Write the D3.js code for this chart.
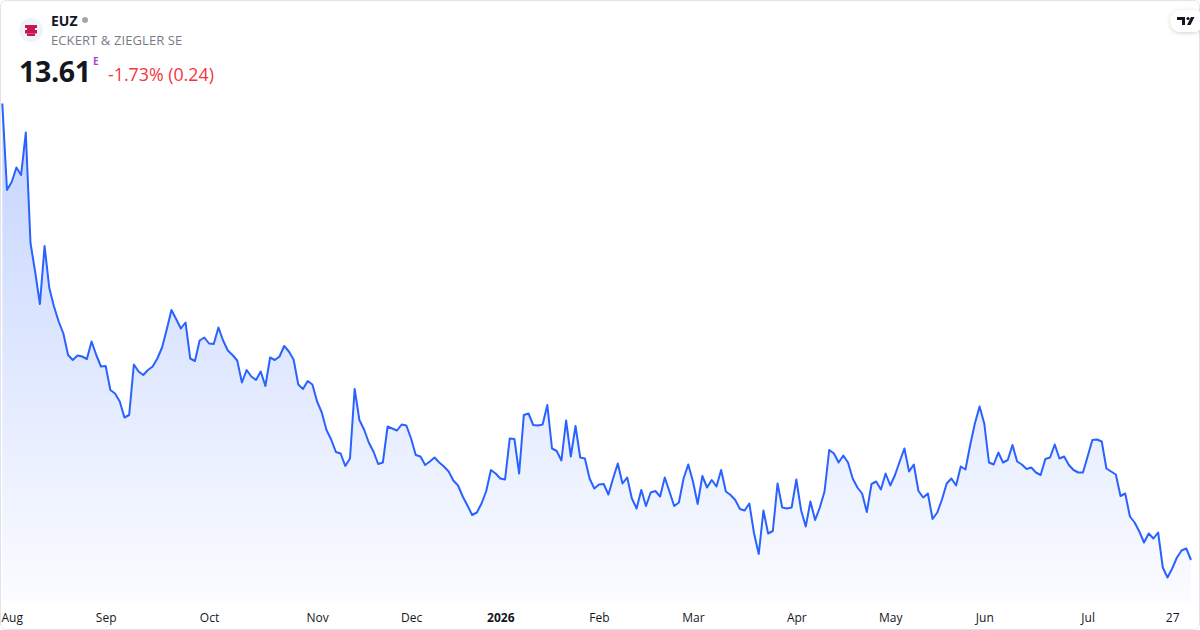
<!DOCTYPE html>
<html>
<head>
<meta charset="utf-8">
<script src="https://cdn.jsdelivr.net/npm/d3@7"></script>
<style>
  html, body { margin: 0; padding: 0; background: #ffffff; }
  body { width: 1200px; height: 630px; overflow: hidden; font-family: "Open Sans", "Noto Sans", sans-serif; }
</style>
</head>
<body>
<div id="chart"></div>
<script>
// Daily closes, one per trading day (Aug 2025 -> Jul 27 2026)
const prices = [
  22.74, 21.01, 21.17, 21.46, 21.31, 22.16, 19.95, 19.37, 18.73, 19.89, 19.05, 18.68, 18.38, 18.14, 17.71, 17.61,
  17.70, 17.68, 17.63, 17.98, 17.71, 17.48, 17.49, 17.01, 16.94, 16.78, 16.46, 16.51, 17.52, 17.38, 17.31,
  17.41, 17.48, 17.64, 17.86, 18.22, 18.61, 18.43, 18.24, 18.36, 17.64, 17.59, 18.00, 18.06, 17.94, 17.93, 18.26,
  18.00, 17.80, 17.71, 17.60, 17.16, 17.41, 17.28, 17.21, 17.38, 17.09, 17.66, 17.61, 17.68, 17.89, 17.78, 17.62, 17.12,
  17.03, 17.19, 17.12, 16.78, 16.56, 16.21, 16.02, 15.77, 15.74, 15.49, 15.64, 17.03, 16.41, 16.22, 15.96, 15.78,
  15.53, 15.56, 16.28, 16.24, 16.20, 16.32, 16.30, 16.04, 15.71, 15.68, 15.51, 15.58, 15.66, 15.56, 15.48, 15.38,
  15.20, 15.10, 14.88, 14.70, 14.51, 14.56, 14.74, 14.99, 15.41, 15.34, 15.24, 15.22, 16.04, 16.03, 15.34, 16.51,
  16.54, 16.31, 16.30, 16.32, 16.71, 15.84, 15.79, 15.60, 16.40, 15.68, 16.29, 15.66, 15.64, 15.24, 15.04, 15.12,
  15.13, 14.92, 15.24, 15.54, 15.14, 15.26, 14.84, 14.64, 15.01, 14.69, 14.96, 14.99, 14.88, 15.26, 14.98, 14.69,
  14.76, 15.24, 15.52, 15.18, 14.73, 15.29, 15.06, 15.21, 15.08, 15.41, 14.98, 14.91, 14.81, 14.63, 14.60, 14.74,
  14.14, 13.73, 14.60, 14.14, 14.19, 15.14, 14.66, 14.64, 14.66, 15.22, 14.61, 14.28, 14.78, 14.41, 14.66, 14.98,
  15.81, 15.74, 15.56, 15.70, 15.56, 15.24, 15.06, 14.94, 14.57, 15.13, 15.18, 15.02, 15.34, 15.10, 15.31, 15.58,
  15.84, 15.38, 15.52, 14.99, 14.86, 14.94, 14.43, 14.56, 14.82, 15.14, 15.24, 15.10, 15.48, 15.42, 15.91, 16.34,
  16.68, 16.34, 15.56, 15.52, 15.76, 15.56, 15.61, 15.91, 15.58, 15.52, 15.43, 15.46, 15.36, 15.31, 15.63, 15.66,
  15.92, 15.64, 15.68, 15.51, 15.41, 15.36, 15.36, 15.68, 16.01, 16.02, 15.98, 15.44, 15.38, 15.32, 14.89, 14.94,
  14.48, 14.36, 14.18, 13.96, 14.14, 14.04, 14.16, 13.46, 13.26, 13.44, 13.66, 13.80, 13.84, 13.61
];

// Time axis labels (index into prices)
const tickIndex  = [0, 22, 44, 67, 87, 106, 127, 147, 169, 189, 209, 231, 249];
const tickLabels = ["Aug", "Sep", "Oct", "Nov", "Dec", "2026", "Feb", "Mar", "Apr", "May", "Jun", "Jul", "27"];
const boldLabels = ["2026"];

// Header texts
const symbol = "EUZ";
const companyName = "ECKERT & ZIEGLER SE";
const lastPrice = "13.61";
const changeText = "-1.73% (0.24)";

const W = 1200, H = 630;
const plot = { left: 2.3, right: 1191, top: 103.5, bottom: 577.5, base: 601 };

const svg = d3.select("#chart").append("svg")
    .attr("width", W)
    .attr("height", H);

const defs = svg.append("defs");

const grad = defs.append("linearGradient")
    .attr("id", "areaGrad")
    .attr("gradientUnits", "userSpaceOnUse")
    .attr("x1", 0).attr("x2", 0)
    .attr("y1", plot.top).attr("y2", plot.base);
grad.append("stop").attr("offset", "0%").attr("stop-color", "#2962ff").attr("stop-opacity", 0.28);
grad.append("stop").attr("offset", "100%").attr("stop-color", "#2962ff").attr("stop-opacity", 0.02);

const shadow = defs.append("filter").attr("id", "pillShadow")
    .attr("x", "-50%").attr("y", "-50%").attr("width", "200%").attr("height", "200%");
shadow.append("feDropShadow")
    .attr("dx", 0).attr("dy", 1).attr("stdDeviation", 2)
    .attr("flood-color", "#000").attr("flood-opacity", 0.18);

// card frame
svg.append("rect")
    .attr("x", 0.5).attr("y", 0.5)
    .attr("width", W - 1).attr("height", H - 1)
    .attr("rx", 6)
    .attr("fill", "#ffffff")
    .attr("stroke", "#e0e3eb");

// scales
const x = d3.scaleLinear()
    .domain([0, prices.length - 1])
    .range([plot.left, plot.right]);

const y = d3.scaleLinear()
    .domain([d3.min(prices), d3.max(prices)])
    .range([plot.bottom, plot.top]);

// area + line
const area = d3.area()
    .x((d, i) => x(i))
    .y0(plot.base)
    .y1(d => y(d));

const line = d3.line()
    .x((d, i) => x(i))
    .y(d => y(d));

svg.append("path")
    .datum(prices)
    .attr("fill", "url(#areaGrad)")
    .attr("d", area);

svg.append("path")
    .datum(prices)
    .attr("fill", "none")
    .attr("stroke", "#2962ff")
    .attr("stroke-width", 2)
    .attr("stroke-linejoin", "round")
    .attr("d", line);

// time axis
const xAxis = svg.append("g")
    .attr("transform", `translate(0,${plot.base})`)
    .call(d3.axisBottom(x)
        .tickValues(tickIndex)
        .tickSize(0)
        .tickPadding(12)
        .tickFormat((d, i) => tickLabels[i]));

xAxis.select(".domain").remove();
xAxis.selectAll("text")
    .attr("font-family", "'Open Sans', 'Noto Sans', sans-serif")
    .attr("font-size", 12)
    .attr("fill", "#131722")
    .attr("font-weight", (d, i) => boldLabels.includes(tickLabels[i]) ? 700 : 400)
    .attr("text-anchor", (d, i) => i === 0 ? "start" : "middle")
    .attr("dx", (d, i) => i === 0 ? -1.3 : 0);

// header: logo
const logo = svg.append("g").attr("transform", "translate(31,30)");
logo.append("circle").attr("r", 12).attr("fill", "#f0f3fa");
logo.append("rect").attr("x", -6).attr("y", -5).attr("width", 12).attr("height", 3).attr("fill", "#c8174d");
logo.append("rect").attr("x", -4).attr("y", -2).attr("width", 8).attr("height", 2).attr("fill", "#c8174d");
logo.append("rect").attr("x", -6).attr("y", 0).attr("width", 12).attr("height", 3.5).attr("fill", "#c8174d");
logo.append("rect").attr("x", -4).attr("y", 3.5).attr("width", 8).attr("height", 2.5).attr("fill", "#c8174d");

const header = svg.append("g")
    .attr("font-family", "'Open Sans', 'Noto Sans', sans-serif");

header.append("text")
    .attr("x", 51).attr("y", 26)
    .attr("font-size", 14).attr("font-weight", 700)
    .attr("fill", "#131722")
    .text(symbol);

header.append("circle")
    .attr("cx", 85).attr("cy", 20).attr("r", 3)
    .attr("fill", "#a3a6af");

header.append("text")
    .attr("x", 51).attr("y", 45)
    .attr("font-size", 13)
    .attr("letter-spacing", 0.1)
    .attr("fill", "#787b86")
    .text(companyName);

header.append("text")
    .attr("x", 19).attr("y", 82)
    .attr("font-size", 28.5).attr("font-weight", 700)
    .attr("letter-spacing", -0.3)
    .attr("fill", "#131722")
    .text(lastPrice);

header.append("text")
    .attr("x", 93).attr("y", 65)
    .attr("font-size", 10).attr("font-weight", 700)
    .attr("fill", "#ab47bc")
    .text("E");

header.append("text")
    .attr("x", 108).attr("y", 81)
    .attr("font-size", 17.8)
    .attr("fill", "#f23645")
    .text(changeText);

// TradingView badge, top right
const tv = svg.append("g").attr("transform", "translate(1185,21)");
tv.append("rect")
    .attr("x", -15).attr("y", -11)
    .attr("width", 34).attr("height", 22)
    .attr("rx", 11)
    .attr("fill", "#ffffff")
    .attr("filter", "url(#pillShadow)");
tv.append("path")
    .attr("d", "M-8,-4 H0 V4 H-3 V-1 H-8 Z")
    .attr("fill", "#131722");
tv.append("circle").attr("cx", 3).attr("cy", -2.5).attr("r", 1.6).attr("fill", "#131722");
tv.append("path")
    .attr("d", "M6,-4 H9.5 L5.5,4 H2 Z")
    .attr("fill", "#131722");
</script>
</body>
</html>
